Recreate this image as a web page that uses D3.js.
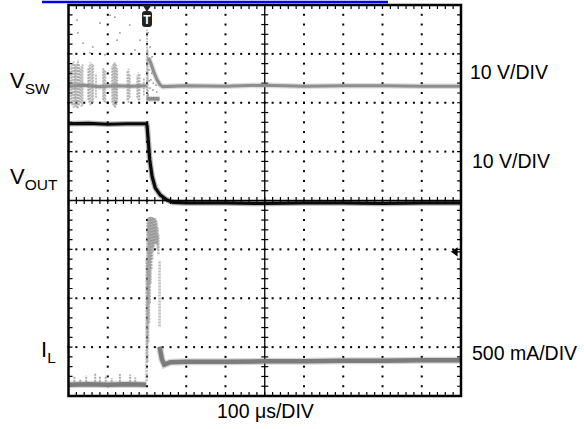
<!DOCTYPE html>
<html>
<head>
<meta charset="utf-8">
<script src="https://cdn.jsdelivr.net/npm/d3@7"></script>
<style>
  body { margin: 0; background: #fff; }
  text { font-family: "Liberation Sans", Arial, sans-serif; fill: #000; }
</style>
</head>
<body>
<div id="scope"></div>
<script>
// time in us (100 us/div, 10 div), amplitude in divisions (-4..4, centre = 0)
var triggerTime = 200;
var triggerLevel = -1.05;

// switch node (grey)
var vswPre = [[0, 2.34], [40, 2.36], [80, 2.33], [120, 2.35], [160, 2.34], [199, 2.35]];
var vswPost = [[204, 2.92], [210, 2.8], [217, 2.64], [225, 2.48], [233, 2.37], [240, 2.33], [300, 2.35],
    [400, 2.34], [500, 2.36], [600, 2.34], [700, 2.35], [800, 2.35], [900, 2.34], [1000, 2.34]];
var vswLow = [[199, 2.08], [232, 2.08]];
var vswSpikes = [[6, 2.0, 2.75], [9, 1.95, 2.8], [13, 1.9, 2.85], [16, 1.95, 2.8], [18, 1.92, 2.75],
    [21, 1.9, 2.82], [24, 1.89, 2.88], [27, 1.95, 2.8], [30, 2.0, 2.7], [33, 1.92, 2.75], [36, 1.95, 2.8],
    [50, 2.05, 2.7], [53, 2.0, 2.76], [56, 1.95, 2.83], [60, 1.98, 2.8], [63, 2.0, 2.78], [70, 2.1, 2.6],
    [88, 2.05, 2.72], [91, 2.02, 2.7], [94, 2.0, 2.65], [111, 2.0, 2.75], [114, 1.95, 2.8], [117, 1.92, 2.82],
    [119, 1.9, 2.83], [122, 1.95, 2.78], [124, 2.0, 2.7], [150, 2.05, 2.65], [153, 2.0, 2.7], [156, 2.1, 2.6],
    [175, 2.1, 2.55], [178, 2.05, 2.62], [181, 2.05, 2.6], [192, 2.15, 2.5], [200, 2.06, 3.5], [202, 2.1, 3.1]];
var vswDots = [[24, 3.43], [37, 3.22], [80, 3.63], [106, 3.79], [118, 3.75], [131, 3.43], [156, 3.59],
    [169, 3.08], [182, 3.28], [200, 3.69], [203, 3.43], [208, 3.14], [213, 2.94], [22, 3.69], [55, 3.02],
    [62, 3.14], [93, 2.98], [124, 3.28], [205, 2.67], [210, 2.47], [215, 2.26], [220, 2.57], [225, 2.22],
    [208, 2.3], [203, 2.16], [218, 2.1], [223, 2.36], [212, 2.6], [216, 2.4], [206, 2.45]];

// output voltage (black)
var vout = [[0, 1.57], [50, 1.58], [100, 1.56], [150, 1.57], [199, 1.57], [200.5, 1.5], [203, 1.24],
    [207, 0.83], [213, 0.49], [221, 0.26], [234, 0.11], [251, 0.01], [267, -0.04], [300, -0.05],
    [400, -0.05], [500, -0.06], [600, -0.05], [700, -0.05], [800, -0.06], [900, -0.05], [1000, -0.05]];

// inductor current (grey)
var ilPre = [[0, -3.77], [50, -3.76], [100, -3.77], [150, -3.76], [198, -3.77]];
var ilPost = [[232, -2.99], [238, -3.25], [244, -3.36], [260, -3.31], [300, -3.3], [400, -3.3],
    [500, -3.29], [600, -3.29], [700, -3.28], [800, -3.28], [900, -3.27], [1000, -3.27]];
var ilSpikes = [[15, -3.77, -3.6], [30, -3.77, -3.65], [45, -3.77, -3.58], [68, -3.77, -3.53],
    [80, -3.77, -3.6], [95, -3.77, -3.58], [110, -3.77, -3.63], [131, -3.77, -3.55], [157, -3.77, -3.56],
    [170, -3.77, -3.62]];
var ilBurst = [[199, -3.7, -1.2], [201, -3.3, -0.45], [203, -2.9, -0.36], [205, -2.5, -0.34],
    [207, -2.1, -0.33], [209, -1.7, -0.33], [211, -1.4, -0.34], [213, -1.2, -0.34], [215, -1.05, -0.35],
    [217, -0.95, -0.35], [219, -0.9, -0.36], [221, -0.88, -0.37], [223, -0.87, -0.4], [225, -0.9, -0.45],
    [227, -1.0, -0.55], [229, -1.1, -0.7], [232, -2.58, -1.22]];

var channelBase = ["V", "V", "I"];
var channelSub = ["SW", "OUT", "L"];
var channelScale = ["10 V/DIV", "10 V/DIV", "500 mA/DIV"];
var timeLabel = "100 \u03bcs/DIV";

var w = 584, h = 429;
var svg = d3.select("#scope").append("svg").attr("width", w).attr("height", h);
svg.append("rect").attr("width", w).attr("height", h).attr("fill", "#fff");

var xScale = d3.scaleLinear().domain([0, 1000]).range([68.5, 461]);
var yScale = d3.scaleLinear().domain([-4, 4]).range([396, 5]);

// blue bar on top
svg.append("line").attr("x1", 42).attr("x2", 388).attr("y1", 2).attr("y2", 2)
    .attr("stroke", "#0000f0").attr("stroke-width", 2.5);

// graticule
var grid = svg.append("g");
var xDiv = d3.range(0, 1001, 100);
var yDiv = d3.range(-4, 4.01, 1);
var xMinor = d3.range(0, 1000.1, 20);
var yMinor = d3.range(-4, 4.01, 0.2);

xDiv.slice(1, -1).filter(function(t) { return t != 500; }).forEach(function(t) {
    grid.selectAll(null).data(yMinor).enter().append("rect")
        .attr("x", xScale(t) - 1).attr("y", function(v) { return yScale(v) - 1; })
        .attr("width", 2).attr("height", 2).attr("fill", "#000");
});
yDiv.slice(1, -1).filter(function(v) { return v != 0; }).forEach(function(v) {
    grid.selectAll(null).data(xMinor).enter().append("rect")
        .attr("x", function(t) { return xScale(t) - 1; }).attr("y", yScale(v) - 1)
        .attr("width", 2).attr("height", 2).attr("fill", "#000");
});

// centre cross with ticks
grid.append("line").attr("x1", xScale(500)).attr("x2", xScale(500)).attr("y1", yScale(-4)).attr("y2", yScale(4))
    .attr("stroke", "#000").attr("stroke-width", 1.3);
grid.append("line").attr("x1", xScale(0)).attr("x2", xScale(1000)).attr("y1", yScale(0)).attr("y2", yScale(0))
    .attr("stroke", "#000").attr("stroke-width", 1.3);
grid.selectAll(null).data(yMinor).enter().append("line")
    .attr("x1", xScale(500) - 3.5).attr("x2", xScale(500) + 3.5)
    .attr("y1", function(v) { return yScale(v); }).attr("y2", function(v) { return yScale(v); })
    .attr("stroke", "#000").attr("stroke-width", 1.2);
grid.selectAll(null).data(xMinor).enter().append("line")
    .attr("y1", yScale(0) - 3.5).attr("y2", yScale(0) + 3.5)
    .attr("x1", function(t) { return xScale(t); }).attr("x2", function(t) { return xScale(t); })
    .attr("stroke", "#000").attr("stroke-width", 1.2);

// border ticks
grid.selectAll(null).data(xMinor).enter().append("path")
    .attr("d", function(t) {
        return "M" + xScale(t) + "," + yScale(4) + "v4M" + xScale(t) + "," + yScale(-4) + "v-4";
    }).attr("stroke", "#000").attr("stroke-width", 1.2);
grid.selectAll(null).data(yMinor).enter().append("path")
    .attr("d", function(v) {
        return "M" + xScale(0) + "," + yScale(v) + "h4M" + xScale(1000) + "," + yScale(v) + "h-4";
    }).attr("stroke", "#000").attr("stroke-width", 1.2);

// traces
var line = d3.line()
    .x(function(d) { return xScale(d[0]); })
    .y(function(d) { return yScale(d[1]); });

var traces = svg.append("g");

function spikes(data, color, width, opacity) {
    traces.append("g").selectAll("line").data(data).enter().append("line")
        .attr("x1", function(d) { return xScale(d[0]); }).attr("x2", function(d) { return xScale(d[0]); })
        .attr("y1", function(d) { return yScale(d[1]); }).attr("y2", function(d) { return yScale(d[2]); })
        .attr("stroke", color).attr("stroke-width", width).attr("stroke-dasharray", "2,1")
        .attr("opacity", opacity);
}

function trace(seg, color, width) {
    // soft halo to mimic the noise band of the scope trace
    traces.append("path").datum(seg).attr("d", line)
        .attr("fill", "none").attr("stroke", color).attr("stroke-width", width + 2.5).attr("opacity", 0.3);
    traces.append("path").datum(seg).attr("d", line)
        .attr("fill", "none").attr("stroke", color).attr("stroke-width", width);
}

// V_SW
spikes(vswSpikes, "#8c8c8c", 1.8, 0.6);
traces.append("g").selectAll("rect").data(vswDots).enter().append("rect")
    .attr("x", function(d) { return xScale(d[0]) - 0.8; }).attr("y", function(d) { return yScale(d[1]) - 0.8; })
    .attr("width", 1.6).attr("height", 1.6).attr("fill", "#999");
trace(vswPre, "#8e8e8e", 3);
trace(vswPost, "#8e8e8e", 3);
trace(vswLow, "#8a8a8a", 3.5);

// V_OUT
trace(vout, "#0a0a0a", 3.2);

// I_L
spikes(ilSpikes, "#888", 2, 0.7);
spikes(ilBurst, "#8a8a8a", 2.6, 0.55);
trace(ilPre, "#7c7c7c", 4.5);
trace(ilPost, "#7c7c7c", 4.5);

// frame
svg.append("rect").attr("x", xScale(0)).attr("y", yScale(4))
    .attr("width", xScale(1000) - xScale(0)).attr("height", yScale(-4) - yScale(4))
    .attr("fill", "none").attr("stroke", "#000").attr("stroke-width", 2.5);

// trigger position marker
var tx = xScale(triggerTime);
svg.append("path")
    .attr("d", "M" + (tx - 4.5) + ",5 L" + (tx + 4.5) + ",5 L" + tx + ",12 Z")
    .attr("fill", "#222");
svg.append("rect").attr("x", tx - 5).attr("y", 11).attr("width", 10).attr("height", 16).attr("rx", 3)
    .attr("fill", "#222");
svg.append("text").attr("x", tx).attr("y", 24).attr("text-anchor", "middle")
    .style("font-size", "12px").style("font-weight", "bold").style("fill", "#fff").text("T");

// trigger level marker
var ty = yScale(triggerLevel);
svg.append("path")
    .attr("d", "M" + (xScale(1000) - 9) + "," + ty + " l5,-3.5 v7 Z M" + (xScale(1000) - 5) + "," + ty + " h4")
    .attr("fill", "#000").attr("stroke", "#000").attr("stroke-width", 1.2);

// labels
var labelY = [88, 184, 357];
var labelX = [10, 10, 41];
var scaleY = [79, 168, 360];
var scaleX = [470, 472, 472];
channelBase.forEach(function(b, i) {
    var t = svg.append("text").attr("x", labelX[i]).attr("y", labelY[i]).style("font-size", "22px");
    t.append("tspan").text(b);
    t.append("tspan").attr("dy", 6).style("font-size", "15.5px").text(channelSub[i]);
    svg.append("text").attr("x", scaleX[i]).attr("y", scaleY[i]).style("font-size", "19.5px").text(channelScale[i]);
});
svg.append("text").attr("x", 217).attr("y", 418).style("font-size", "19.5px").text(timeLabel);
</script>
</body>
</html>
